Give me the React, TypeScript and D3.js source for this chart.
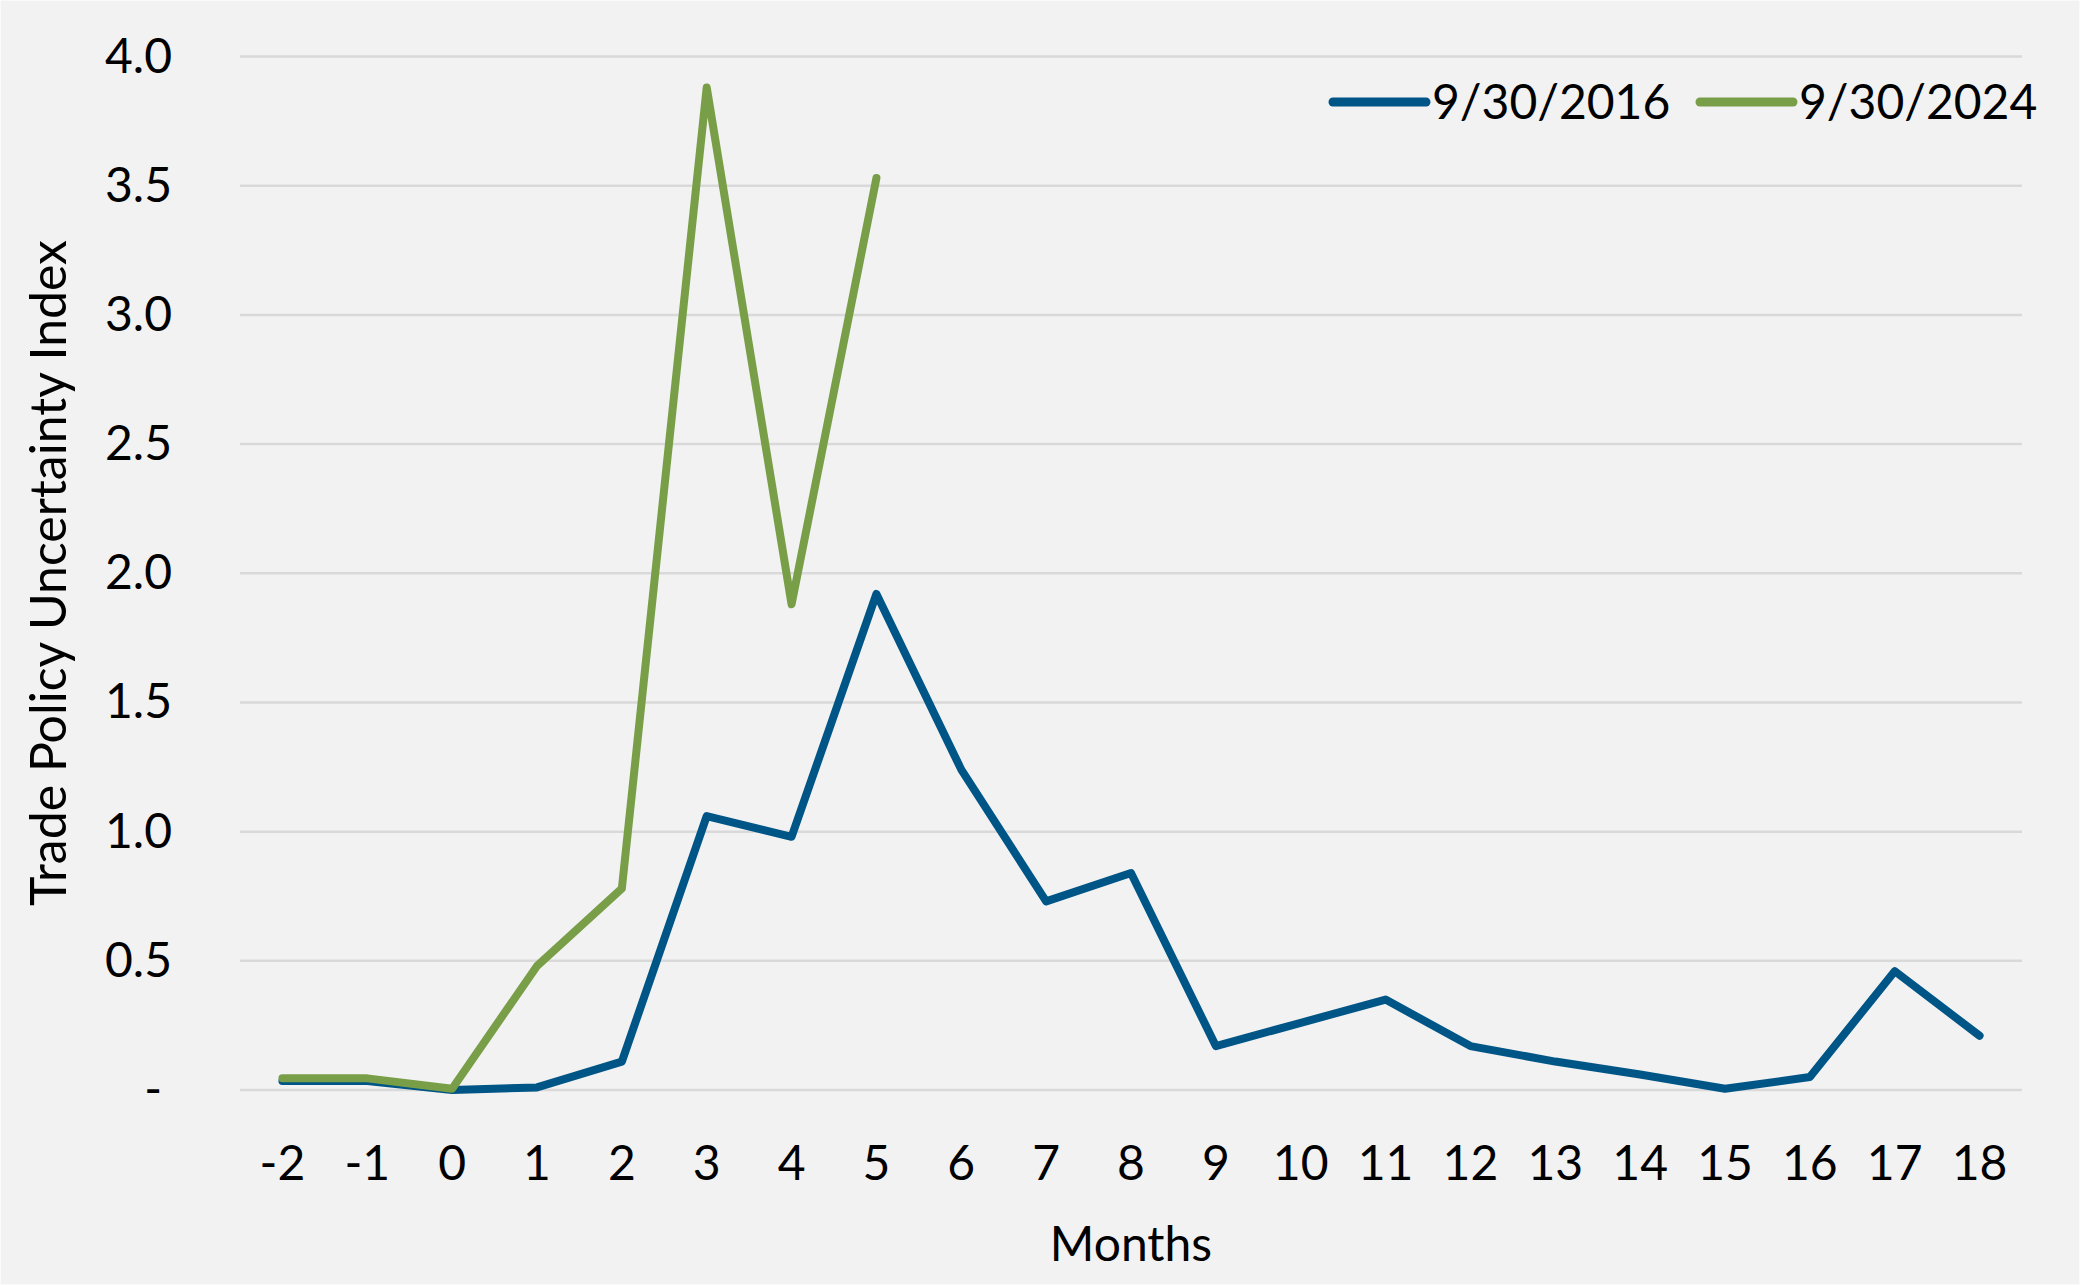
import React from "react";
import * as d3 from "d3";

const months: string[] = ["-2","-1","0","1","2","3","4","5","6","7","8","9","10","11","12","13","14","15","16","17","18"];
const series2016: (number | null)[] = [0.035,0.035,0.0,0.01,0.11,1.06,0.98,1.92,1.24,0.73,0.84,0.17,0.26,0.35,0.17,0.11,0.06,0.005,0.05,0.46,0.21];
const series2024: (number | null)[] = [0.045,0.045,0.005,0.48,0.78,3.88,1.88,3.53,null,null,null,null,null,null,null,null,null,null,null,null,null];
const yTicks: number[] = [0,0.5,1,1.5,2,2.5,3,3.5,4];
const yTickLabels: string[] = ["-","0.5","1.0","1.5","2.0","2.5","3.0","3.5","4.0"];
const seriesNames: string[] = ["9/30/2016","9/30/2024"];
const seriesColors: string[] = ["#005587","#799E48"];

const W = 2080, H = 1285;
const FONT = "Lato, 'Open Sans', sans-serif";

export default function App() {
  const x = d3.scalePoint<string>().domain(months).range([240, 2022]).padding(0.5);
  const y = d3.scaleLinear().domain([0, 4]).range([1090, 56.5]);
  const line = d3.line<number | null>()
    .defined(d => d !== null)
    .x((_, i) => x(months[i]) as number)
    .y(d => y(d as number));
  const all = [series2016, series2024];
  const legendX = [1333, 1700];
  return (
    <svg width={W} height={H} style={{ position: "absolute", left: 0, top: 0, display: "block" }}
      fontFamily={FONT}>
      <rect x={0} y={0} width={W} height={H} fill="#F2F2F2" stroke="#FAFAFA" strokeWidth={2} />
      {yTicks.map((t, i) => (
        <g key={t}>
          <line x1={240} x2={2022} y1={y(t)} y2={y(t)} stroke="#D9D9D9" strokeWidth={2.5} />
          <text x={t === 0 ? 162 : 172} y={y(t) + 16} textAnchor="end" fontSize={48} fill="#000">{yTickLabels[i]}</text>
        </g>
      ))}
      {months.map(m => (
        <text key={m} x={x(m)} y={1180} textAnchor="middle" fontSize={48} fill="#000">{m}</text>
      ))}
      {all.map((s, i) => (
        <path key={i} d={line(s) || ""} fill="none" stroke={seriesColors[i]} strokeWidth={8}
          strokeLinecap="round" strokeLinejoin="round" />
      ))}
      {seriesNames.map((n, i) => (
        <g key={n}>
          <line x1={legendX[i]} x2={legendX[i] + 93} y1={102} y2={102} stroke={seriesColors[i]} strokeWidth={9} strokeLinecap="round" />
          <text x={legendX[i] + 99} y={119} fontSize={48} fill="#000">{n}</text>
        </g>
      ))}
      <text x={1131} y={1261} textAnchor="middle" fontSize={48} fill="#000">Months</text>
      <text transform={`translate(66, 573) rotate(-90)`} textAnchor="middle" fontSize={50} fill="#000">Trade Policy Uncertainty Index</text>
    </svg>
  );
}
